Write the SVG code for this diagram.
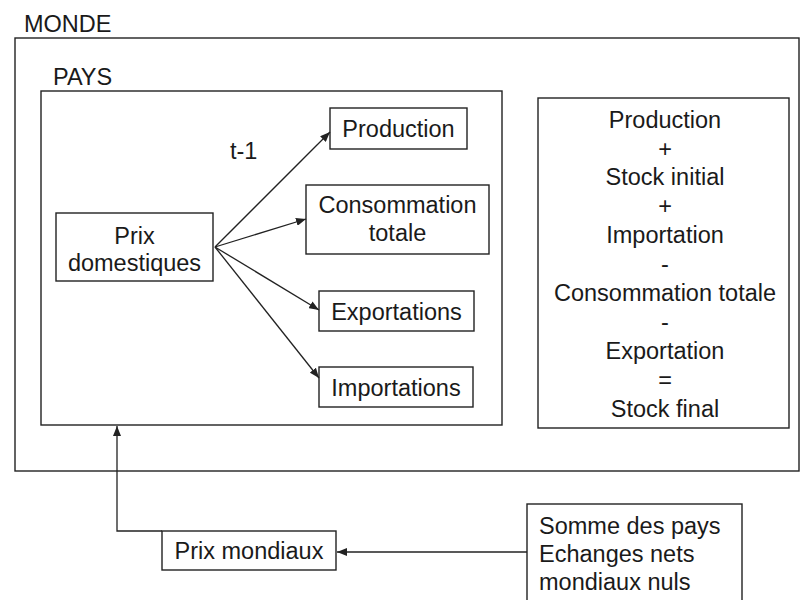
<svg xmlns="http://www.w3.org/2000/svg" width="800" height="600" viewBox="0 0 800 600">
<defs>
<style>
text{font-family:"Liberation Sans",Arial,sans-serif;font-size:23.5px;fill:#1a1a1a}
.c{text-anchor:middle}
.box{fill:none;stroke:#222;stroke-width:1.4}
.con{fill:none;stroke:#222;stroke-width:1.3}
</style>
<marker id="ah" viewBox="0 0 10 8" refX="10" refY="4" markerWidth="10" markerHeight="8" markerUnits="userSpaceOnUse" orient="auto">
<path d="M0,0 L10,4 L0,8 Z" fill="#222"/>
</marker>
</defs>
<rect width="800" height="600" fill="#fff"/>
<g id="monde">
<text x="24" y="32">MONDE</text>
<rect class="box" x="15" y="38" width="784" height="433"/>
</g>
<g id="pays">
<text x="53" y="85">PAYS</text>
<rect class="box" x="41" y="91" width="461" height="334"/>
</g>
<g id="prix-domestiques">
<rect class="box" x="56" y="213" width="157" height="68"/>
<text class="c" x="134.5" y="244">Prix</text>
<text class="c" x="134.5" y="271">domestiques</text>
</g>
<g id="production">
<rect class="box" x="330" y="108" width="137" height="41"/>
<text class="c" x="398.5" y="137">Production</text>
</g>
<g id="consommation">
<rect class="box" x="306" y="185" width="183" height="69"/>
<text class="c" x="397.5" y="213">Consommation</text>
<text class="c" x="397.5" y="241">totale</text>
</g>
<g id="exportations">
<rect class="box" x="319" y="291" width="155" height="40"/>
<text class="c" x="396.5" y="320">Exportations</text>
</g>
<g id="importations">
<rect class="box" x="319" y="367" width="154" height="40"/>
<text class="c" x="396" y="396">Importations</text>
</g>
<g id="label-t1">
<text x="230" y="159">t-1</text>
</g>
<g id="bilan">
<rect class="box" x="538" y="98" width="251" height="330"/>
<text class="c" x="665" y="128">Production</text>
<text class="c" x="665" y="157">+</text>
<text class="c" x="665" y="185">Stock initial</text>
<text class="c" x="665" y="214">+</text>
<text class="c" x="665" y="243">Importation</text>
<text class="c" x="665" y="272">-</text>
<text class="c" x="665" y="301">Consommation totale</text>
<text class="c" x="665" y="330">-</text>
<text class="c" x="665" y="359">Exportation</text>
<text class="c" x="665" y="388">=</text>
<text class="c" x="665" y="417">Stock final</text>
</g>
<g id="prix-mondiaux">
<rect class="box" x="162" y="531" width="174" height="39"/>
<text class="c" x="249" y="559">Prix mondiaux</text>
</g>
<g id="somme">
<rect class="box" x="527" y="504" width="215" height="110"/>
<text x="539" y="534">Somme des pays</text>
<text x="539" y="562">Echanges nets</text>
<text x="539" y="590">mondiaux nuls</text>
</g>
<g id="connectors">
<line class="con" x1="215" y1="247" x2="330" y2="132" marker-end="url(#ah)"/>
<line class="con" x1="215" y1="247" x2="306" y2="219" marker-end="url(#ah)"/>
<line class="con" x1="215" y1="247" x2="319" y2="310" marker-end="url(#ah)"/>
<line class="con" x1="215" y1="247" x2="319" y2="378" marker-end="url(#ah)"/>
<line class="con" x1="527" y1="552" x2="337" y2="552" marker-end="url(#ah)"/>
<polyline class="con" points="162,531 117,531 117,426" marker-end="url(#ah)"/>
</g>
</svg>
